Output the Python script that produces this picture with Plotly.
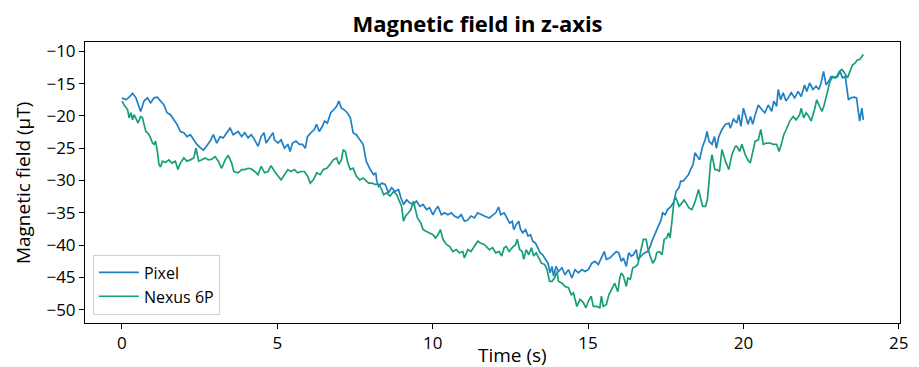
import plotly.graph_objects as go

# ---- data ----
pixel_t = [0.00,0.13,0.23,0.34,0.45,0.55,0.60,0.71,0.82,0.92,1.03,1.14,1.24,1.35,1.45,1.56,1.67,1.77,1.88,1.99,
           2.09,2.20,2.31,2.41,2.52,2.62,2.73,2.84,2.94,3.05,3.16,3.26,3.37,3.48,3.58,3.74,3.85,3.95,4.06,4.16,
           4.27,4.38,4.48,4.57,4.64,4.75,4.86,4.91,5.02,5.12,5.23,5.34,5.41,5.49,5.60,5.71,5.81,5.90,5.97,6.08,
           6.19,6.26,6.35,6.45,6.52,6.61,6.72,6.82,6.91,6.98,7.06,7.14,7.25,7.35,7.44,7.54,7.65,7.76,7.86,7.99,
           8.10,8.17,8.20,8.26,8.36,8.47,8.58,8.68,8.79,8.90,8.98,9.06,9.16,9.27,9.38,9.48,9.59,9.69,9.80,9.90,
           10.01,10.09,10.17,10.28,10.38,10.49,10.60,10.70,10.81,10.92,11.02,11.13,11.23,11.34,11.45,11.55,11.66,11.82,11.93,12.03,
           12.12,12.19,12.30,12.40,12.48,12.56,12.61,12.69,12.77,12.83,12.90,12.99,13.07,13.15,13.22,13.31,13.39,13.46,13.54,13.63,
           13.71,13.78,13.84,13.89,13.97,14.05,14.16,14.26,14.37,14.48,14.58,14.69,14.80,14.90,15.01,15.12,15.22,15.33,15.43,15.52,
           15.59,15.70,15.80,15.91,15.99,16.07,16.14,16.23,16.31,16.39,16.46,16.55,16.60,16.71,16.81,16.92,17.00,17.08,17.19,17.27,
           17.35,17.40,17.48,17.56,17.67,17.77,17.83,17.93,17.98,18.06,18.14,18.23,18.30,18.38,18.44,18.51,18.59,18.67,18.78,18.83,
           18.89,18.99,19.07,19.13,19.21,19.31,19.42,19.53,19.58,19.68,19.79,19.85,19.92,20.00,20.09,20.15,20.23,20.30,20.38,20.48,
           20.59,20.69,20.80,20.91,20.98,21.07,21.12,21.20,21.28,21.37,21.44,21.54,21.65,21.76,21.86,21.97,22.04,22.13,22.24,22.34,
           22.43,22.50,22.58,22.66,22.75,22.82,22.93,23.03,23.11,23.19,23.28,23.32,23.38,23.46,23.57,23.64,23.70,23.74,23.81,23.86]
pixel_v = [-17.2,-17.5,-17.1,-16.5,-17.2,-18.5,-19.3,-17.7,-17.2,-18.0,-17.2,-17.1,-17.7,-18.3,-19.5,-19.8,-20.6,-21.3,-22.4,-22.6,
           -23.2,-22.9,-23.7,-24.4,-24.9,-25.3,-24.6,-23.9,-22.9,-24.2,-23.2,-23.4,-22.6,-21.9,-22.9,-22.4,-23.2,-22.6,-23.4,-22.9,
           -23.7,-24.7,-23.2,-22.6,-24.2,-23.4,-22.6,-23.7,-24.2,-23.7,-25.0,-24.4,-25.5,-24.2,-23.9,-24.4,-24.4,-25.0,-23.2,-22.6,
           -22.1,-21.3,-22.4,-21.6,-20.8,-21.1,-19.5,-19.0,-18.5,-17.7,-18.8,-19.0,-19.5,-20.3,-22.6,-22.9,-23.7,-24.4,-27.0,-28.3,
           -29.1,-28.8,-30.1,-30.9,-30.4,-30.6,-31.9,-31.1,-31.7,-31.4,-32.7,-33.7,-33.0,-33.5,-33.7,-33.2,-34.0,-33.7,-34.5,-34.2,
           -35.3,-34.5,-34.0,-35.3,-35.0,-35.3,-35.0,-35.5,-35.8,-35.3,-36.3,-36.1,-35.5,-35.8,-35.0,-35.3,-35.5,-35.8,-35.3,-35.0,
           -34.1,-35.3,-35.0,-35.8,-36.6,-36.3,-37.6,-36.8,-36.3,-37.6,-38.1,-37.6,-38.6,-38.4,-39.4,-39.7,-40.4,-41.2,-41.5,-42.2,
           -42.8,-44.3,-43.3,-44.8,-43.3,-44.1,-43.5,-44.6,-43.8,-45.1,-43.8,-44.3,-43.8,-44.1,-43.8,-42.8,-42.5,-43.0,-42.0,-41.0,
           -42.2,-42.0,-41.5,-41.0,-41.2,-42.5,-42.0,-43.3,-41.2,-41.7,-41.5,-40.7,-42.2,-41.7,-41.2,-41.0,-40.2,-39.1,-37.9,-37.1,
           -36.1,-35.0,-35.3,-34.5,-34.0,-33.2,-31.7,-31.1,-30.1,-30.1,-29.6,-29.1,-28.3,-27.5,-25.7,-26.3,-26.8,-25.0,-23.5,-22.4,
           -23.9,-24.4,-23.2,-25.0,-23.2,-22.1,-21.3,-21.1,-21.9,-20.5,-21.1,-19.8,-21.6,-18.8,-20.1,-21.3,-20.1,-21.3,-19.8,-18.3,
           -19.0,-19.5,-18.3,-19.3,-17.7,-18.5,-15.9,-17.5,-16.4,-17.7,-17.2,-16.4,-17.2,-16.2,-17.0,-15.2,-16.2,-14.9,-15.9,-15.4,
           -15.9,-14.9,-13.1,-15.2,-14.6,-13.9,-14.1,-13.9,-13.1,-14.1,-13.9,-15.7,-17.5,-17.2,-17.1,-17.2,-19.0,-20.8,-18.8,-20.6]

nexus_t = [0.00,0.07,0.18,0.23,0.29,0.34,0.39,0.45,0.52,0.60,0.66,0.71,0.77,0.82,0.87,0.92,0.98,1.03,1.08,1.14,
           1.19,1.24,1.30,1.40,1.51,1.61,1.72,1.80,1.88,1.99,2.09,2.20,2.31,2.38,2.47,2.57,2.68,2.78,2.89,3.00,
           3.10,3.21,3.32,3.42,3.53,3.60,3.74,3.85,3.95,4.06,4.16,4.27,4.38,4.48,4.59,4.70,4.80,4.91,5.02,5.12,
           5.23,5.34,5.44,5.55,5.65,5.76,5.87,5.97,6.06,6.16,6.27,6.38,6.48,6.59,6.70,6.80,6.91,6.98,7.06,7.12,
           7.19,7.27,7.35,7.44,7.54,7.65,7.76,7.86,7.94,8.05,8.15,8.26,8.36,8.42,8.52,8.63,8.74,8.84,8.92,9.00,
           9.06,9.13,9.22,9.30,9.38,9.43,9.51,9.62,9.69,9.80,9.90,10.01,10.09,10.17,10.25,10.33,10.44,10.54,10.65,10.76,
           10.86,10.97,11.02,11.13,11.23,11.34,11.45,11.55,11.66,11.82,11.93,12.03,12.14,12.22,12.30,12.37,12.46,12.56,12.67,12.72,
           12.80,12.88,12.93,13.01,13.09,13.18,13.25,13.33,13.41,13.50,13.60,13.68,13.76,13.84,13.92,14.00,14.05,14.16,14.26,14.37,
           14.46,14.53,14.64,14.74,14.85,14.93,15.01,15.10,15.17,15.27,15.38,15.43,15.49,15.59,15.67,15.75,15.86,15.91,15.96,16.02,
           16.07,16.14,16.23,16.28,16.36,16.44,16.53,16.60,16.66,16.71,16.78,16.87,16.92,17.00,17.08,17.16,17.21,17.29,17.38,17.45,
           17.53,17.59,17.64,17.70,17.77,17.83,17.88,17.93,18.02,18.09,18.16,18.24,18.34,18.43,18.51,18.56,18.62,18.69,18.78,18.84,
           18.89,18.94,18.99,19.08,19.15,19.23,19.31,19.42,19.53,19.63,19.74,19.79,19.88,19.95,20.06,20.14,20.22,20.30,20.38,20.48,
           20.56,20.64,20.75,20.85,20.96,21.07,21.15,21.22,21.30,21.38,21.49,21.60,21.70,21.81,21.86,21.94,22.02,22.11,22.18,22.29,
           22.36,22.45,22.53,22.60,22.66,22.75,22.79,22.88,22.98,23.09,23.17,23.25,23.35,23.43,23.51,23.60,23.67,23.74,23.81,23.86]
nexus_v = [-17.7,-18.3,-19.0,-20.3,-19.5,-20.6,-19.8,-20.3,-21.1,-20.1,-20.3,-21.3,-22.4,-22.6,-22.9,-23.4,-24.2,-24.4,-23.9,-25.5,
           -27.5,-27.9,-27.0,-27.2,-26.8,-27.3,-27.0,-28.3,-27.3,-26.5,-27.0,-26.8,-26.5,-25.0,-27.0,-26.8,-26.5,-26.8,-26.7,-26.3,
           -27.0,-28.1,-26.8,-26.1,-27.3,-28.6,-28.8,-28.3,-28.3,-28.1,-28.2,-28.6,-29.1,-27.8,-28.8,-28.6,-27.7,-28.6,-29.2,-29.9,
           -29.1,-28.3,-28.6,-28.3,-28.8,-28.6,-28.6,-29.3,-30.4,-29.9,-28.8,-29.1,-28.3,-28.1,-27.5,-26.8,-26.5,-27.5,-26.8,-25.2,
           -25.5,-27.3,-28.3,-28.1,-29.3,-29.9,-29.6,-30.1,-30.4,-30.4,-30.6,-30.6,-31.4,-32.2,-31.9,-32.4,-31.7,-32.2,-33.0,-34.0,
           -36.3,-35.5,-35.0,-34.5,-33.2,-34.2,-35.8,-36.6,-37.6,-37.9,-38.1,-38.4,-38.9,-38.4,-37.6,-39.1,-39.9,-40.2,-41.0,-40.7,
           -41.2,-41.0,-42.0,-40.7,-41.0,-40.2,-39.4,-39.7,-39.9,-40.7,-40.4,-41.2,-41.0,-41.7,-40.4,-40.2,-41.0,-40.4,-39.9,-39.1,
           -40.7,-41.0,-42.2,-40.7,-41.5,-40.4,-41.7,-41.2,-42.0,-42.8,-43.0,-43.8,-45.6,-45.6,-45.1,-44.1,-45.6,-45.9,-46.4,-46.6,
           -47.7,-47.4,-49.5,-48.4,-48.9,-49.7,-48.7,-47.9,-49.5,-49.5,-49.7,-47.9,-49.5,-49.2,-47.7,-46.9,-45.9,-46.6,-47.2,-45.1,
           -44.3,-44.8,-46.4,-45.1,-45.3,-43.5,-43.3,-43.0,-41.7,-40.4,-39.1,-39.1,-40.4,-41.7,-42.8,-42.2,-41.2,-41.0,-41.5,-39.1,
           -38.9,-38.1,-38.9,-36.3,-33.0,-32.7,-33.5,-34.0,-33.5,-33.0,-33.5,-34.2,-34.5,-33.5,-32.2,-31.4,-32.7,-34.0,-34.0,-33.0,
           -30.4,-27.3,-26.0,-28.3,-28.3,-28.6,-25.2,-27.0,-28.3,-26.0,-24.7,-24.7,-25.5,-24.4,-26.0,-26.8,-27.3,-25.5,-23.9,-23.7,
           -22.1,-24.4,-24.2,-24.2,-24.4,-24.4,-25.5,-24.4,-22.9,-22.1,-20.8,-20.1,-20.6,-19.8,-18.8,-20.3,-19.5,-20.1,-20.8,-19.0,
           -17.5,-18.5,-19.3,-18.3,-17.2,-15.7,-14.6,-13.9,-14.1,-13.1,-12.8,-13.3,-14.1,-13.1,-12.1,-11.8,-11.3,-11.3,-10.8,-10.5]

series_names = ["Pixel", "Nexus 6P"]
x_ticks = [0, 5, 10, 15, 20, 25]
x_tick_labels = ["0", "5", "10", "15", "20", "25"]
y_ticks = [-10, -15, -20, -25, -30, -35, -40, -45, -50]
y_tick_labels = ["\u221210", "\u221215", "\u221220", "\u221225", "\u221230", "\u221235", "\u221240", "\u221245", "\u221250"]

BLUE = "#1f80c6"
GREEN = "#179e7b"
FONT = "Open Sans"
W, H = 919, 367

fig = go.Figure()
fig.add_trace(go.Scatter(x=pixel_t, y=pixel_v, mode="lines", name=series_names[0],
                         line=dict(color=BLUE, width=1.7)))
fig.add_trace(go.Scatter(x=nexus_t, y=nexus_v, mode="lines", name=series_names[1],
                         line=dict(color=GREEN, width=1.7)))

axis_common = dict(showgrid=False, zeroline=False, showline=True, linecolor="black",
                   linewidth=1, mirror=True, ticks="outside", ticklen=5, tickwidth=1,
                   tickcolor="black", tickfont=dict(family=FONT, size=17, color="black"))

fig.update_layout(
    width=W, height=H,
    margin=dict(l=85, r=11, t=42, b=44),
    paper_bgcolor="white", plot_bgcolor="white",
    font=dict(family=FONT, color="black"),
    title=dict(text="<b>Magnetic field in z-axis</b>", font=dict(family=FONT, size=22, color="black"),
               x=477.5 / W, xanchor="center", xref="container",
               y=1 - 24 / H, yanchor="middle", yref="container"),
    xaxis=dict(range=[-1.19, 25.04], tickvals=x_ticks, ticktext=x_tick_labels, **axis_common),
    yaxis=dict(range=[-52.06, -8.55], tickvals=y_ticks, ticktext=y_tick_labels, **axis_common),
    legend=dict(x=0.0097, y=0.03, xanchor="left", yanchor="bottom",
                bgcolor="rgba(255,255,255,0.8)", bordercolor="#d0d0d0", borderwidth=1,
                font=dict(family=FONT, size=16, color="black"), tracegroupgap=0, itemwidth=40),
    showlegend=True,
    annotations=[
        dict(text="Time (s)", xref="paper", yref="paper", x=(517 - 85) / 823, y=-(355 - 323.3) / 281,
             xanchor="center", yanchor="middle", showarrow=False,
             font=dict(family=FONT, size=19, color="black")),
        dict(text="Magnetic field (\u03bcT)", xref="paper", yref="paper", x=-(85 - 22) / 823, y=0.5,
             xanchor="center", yanchor="middle", showarrow=False, textangle=-90,
             font=dict(family=FONT, size=19, color="black")),
    ],
)

fig.write_html("out.html")
